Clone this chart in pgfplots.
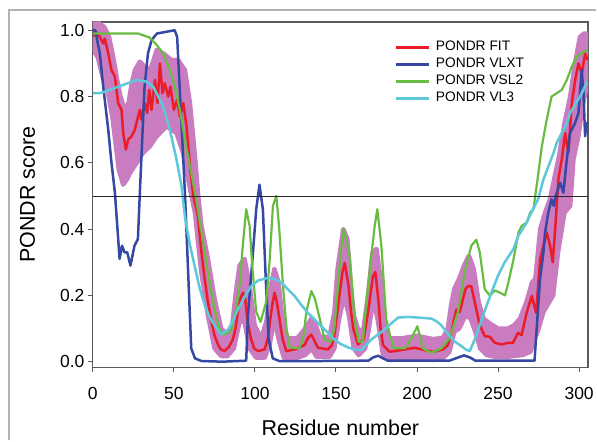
\documentclass[border=0pt]{standalone}
\usepackage{fontspec}
\setmainfont{Liberation Sans}
\usepackage{pgfplots}
\pgfplotsset{compat=1.18}
\usepgfplotslibrary{fillbetween}
\definecolor{cfit}{RGB}{236,28,40}
\definecolor{cvlxt}{RGB}{52,72,164}
\definecolor{cvsl}{RGB}{104,188,66}
\definecolor{cvl}{RGB}{92,200,218}
\definecolor{cband}{RGB}{201,124,192}
\definecolor{cframe}{RGB}{90,90,90}
\begin{document}
\begin{tikzpicture}[x=1bp,y=1bp]
\path (0,0) rectangle (597,441);
\draw[line width=2bp, black!30] (9,0) -- (9,430.5) -- (597,430.5);
\begin{axis}[
  at={(93bp,73bp)}, anchor=south west,
  scale only axis, width=496bp, height=346bp,
  xmin=0, xmax=305.5, ymin=-0.0172, ymax=1.025,
  axis line style={cframe, line width=1.2bp},
  tick style={cframe, line width=1bp},
  tick align=outside, major tick length=5bp,
  xtick pos=bottom, ytick pos=left,
  xtick={0,50,...,300},
  ytick={0,0.2,0.4,0.6,0.8,1.0},
  yticklabel style={/pgf/number format/.cd, fixed, fixed zerofill, precision=1},
  /pgf/number format/assume math mode=true,
  ticklabel style={font=\fontsize{17.5bp}{20bp}\selectfont},
  xticklabel style={yshift=-11bp},
  xlabel={Residue number}, ylabel={PONDR score},
  every axis x label/.style={at={(axis description cs:0.5,-0.1986)}, anchor=base, font=\fontsize{21.5bp}{24bp}\selectfont},
  every axis y label/.style={at={(axis description cs:-0.117,0.5)}, anchor=base, rotate=90, font=\fontsize{21.5bp}{24bp}\selectfont},
  legend style={draw=none, fill=none, at={(axis description cs:0.609,0.952)}, anchor=north west,
    font=\fontsize{13.8bp}{16bp}\selectfont, inner sep=0pt, row sep=0bp,
    nodes={inner sep=2bp, text height=10bp, text depth=3bp}},
  legend cell align=left,
  legend image code/.code={\path[draw=none, fill=none] (0bp,0bp) -- (38bp,0bp);\draw[#1, line width=2.8bp] (0bp,0bp) -- (33bp,0bp);},
]
% uncertainty band of PONDR FIT
\addplot[name path=up, draw=cband, line width=4.5bp, line join=round, line cap=round, forget plot] coordinates {
(0,1.02) (4,1.02) (7,1.01) (10,0.98) (12.5,0.92) (15,0.85) (17,0.80) (19.8,0.76) (22,0.78) (24,0.84)
(26,0.88) (29,0.905) (32,0.89) (35.2,0.88) (37.5,0.91) (39.3,0.94) (43.4,0.93) (46,0.92) (48.5,0.91)
(52.6,0.91) (56.8,0.88) (59.9,0.78) (63,0.62) (65,0.50) (67,0.41) (71,0.31) (75.1,0.19) (79.2,0.10)
(83.3,0.08) (86,0.11) (88,0.20) (90.5,0.29) (93.6,0.31) (96.7,0.23) (99.8,0.11) (103.9,0.07) (107,0.12)
(109.5,0.22) (112,0.28) (114.5,0.24) (117,0.13) (120,0.07) (126,0.07) (131,0.10) (134.8,0.13) (137.5,0.11)
(140,0.075) (146,0.075) (149,0.15) (151,0.28) (154.5,0.40) (157,0.37) (159,0.24) (161,0.14) (164,0.09)
(167,0.10) (170,0.21) (172.5,0.33) (175,0.34) (177.5,0.25) (179.5,0.12) (182,0.07) (190,0.07) (200,0.078)
(210,0.068) (216,0.072) (219,0.10) (221,0.17) (223,0.22) (226,0.25) (229,0.29) (232,0.32) (235,0.28)
(238,0.18) (241,0.13) (245,0.115) (250,0.10) (256,0.10) (260,0.11) (263.5,0.13) (267.5,0.18) (271,0.24)
(273,0.25) (276,0.40) (279,0.45) (282,0.49) (285,0.56) (288,0.63) (291,0.72) (294.5,0.80) (297.5,0.90)
(300.5,0.98) (303,0.99) (305.5,0.99)};
\addplot[name path=lo, draw=cband, line width=4.5bp, line join=round, line cap=round, forget plot] coordinates {
(0,0.94) (3,0.92) (6,0.86) (9,0.82) (12,0.74) (14,0.66) (16,0.58) (18.7,0.534) (21,0.55) (23,0.57)
(27,0.60) (31,0.63) (35.2,0.65) (39.3,0.68) (45.5,0.71) (51.6,0.69) (55.7,0.63) (58,0.57) (60,0.52)
(63,0.45) (66.9,0.27) (71,0.14) (75.1,0.04) (79.2,0.017) (83,0.017) (87,0.04) (90.5,0.12) (93.6,0.12)
(96.7,0.04) (100.8,0.012) (106,0.012) (109,0.05) (112,0.13) (115,0.06) (118,0.01) (125,0.01) (131,0.02)
(135,0.04) (138,0.015) (146,0.015) (149,0.04) (152,0.13) (155,0.20) (158,0.14) (161,0.04) (164,0.02)
(168,0.04) (170,0.09) (173,0.19) (176,0.12) (179,0.02) (184,0.005) (200,0.01) (210,0.005) (216,0.01)
(220,0.03) (223,0.09) (226,0.10) (230,0.14) (233,0.13) (236,0.09) (239,0.04) (243,0.02) (248,0.015)
(256,0.015) (265,0.02) (270,0.03) (272,0.06) (275,0.10) (278,0.15) (284,0.20) (287,0.33) (291,0.45)
(294.5,0.47) (296.5,0.61) (299.5,0.68) (302.5,0.78) (305.5,0.85)};
\addplot[cband, forget plot] fill between[of=up and lo];
% PONDR FIT
\addplot[cfit, line width=2.5bp, line join=round] coordinates {
(0,0.98) (1.2,1.0) (4.3,0.98) (6.4,0.96) (7.4,0.975) (9.5,0.93) (11.5,0.88) (13.6,0.86) (15.6,0.78)
(17.7,0.76) (18.7,0.69) (20.4,0.64) (21.8,0.67) (23.9,0.68) (25.9,0.70) (27.4,0.73) (29,0.76) (30,0.73)
(32,0.78) (33.5,0.75) (34.8,0.82) (36.2,0.76) (38.3,0.85) (39.9,0.78) (41.4,0.90) (43,0.81) (44.4,0.84)
(46.5,0.80) (47.9,0.83) (50,0.76) (52,0.79) (53.7,0.74) (55.8,0.78) (57.8,0.71) (59.9,0.59) (62,0.50)
(64.8,0.44) (67,0.33) (69,0.25) (71,0.18) (73,0.127) (75,0.08) (77.2,0.052) (79,0.037) (81.3,0.032)
(84,0.045) (86.4,0.067) (88,0.10) (89.5,0.15) (91,0.19) (92.6,0.208) (94,0.19) (95.5,0.12) (97.7,0.067)
(99.5,0.04) (101.9,0.032) (106,0.037) (108,0.07) (109.5,0.13) (111,0.18) (112.1,0.208) (113.5,0.18)
(115.2,0.127) (117,0.07) (119.3,0.032) (124.5,0.037) (130.6,0.05) (132.5,0.07) (134.8,0.082) (137,0.06)
(138.9,0.042) (145,0.037) (147.5,0.05) (149.2,0.087) (150.8,0.15) (152.3,0.208) (154,0.27) (155.4,0.298)
(157.7,0.23) (159.3,0.15) (160.8,0.097) (163.6,0.052) (167,0.067) (169.8,0.15) (172.8,0.258) (174.3,0.27)
(176.3,0.18) (177.5,0.10) (179,0.05) (183.1,0.03) (190.3,0.035) (198.6,0.042) (204.7,0.035) (209.9,0.03)
(216,0.037) (219,0.05) (221.2,0.087) (222.5,0.12) (224.3,0.157) (226.3,0.15) (228.4,0.19) (230,0.22)
(231.5,0.228) (233.5,0.228) (235.6,0.18) (238.7,0.11) (241.8,0.077) (244.9,0.075) (248,0.057) (252,0.052)
(256.2,0.057) (259.2,0.057) (262.3,0.087) (264.5,0.08) (267.6,0.147) (270.8,0.198) (273.5,0.147)
(275.9,0.308) (278,0.35) (280,0.39) (282.1,0.35) (283.7,0.30) (285.1,0.39) (287.2,0.55) (289.3,0.61)
(291.4,0.69) (293.4,0.63) (295.5,0.78) (297.6,0.85) (299.6,0.90) (301.7,0.87) (303.7,0.93) (305.2,0.91)};
\addlegendentry{PONDR FIT}
% PONDR VLXT
\addplot[cvlxt, line width=2.5bp, line join=round] coordinates {
(0,1.00) (1.5,1.00) (4.3,0.93) (6.4,0.83) (9.5,0.70) (11.5,0.60) (13.6,0.51) (15.5,0.38) (16.5,0.31)
(18,0.35) (19.5,0.33) (21.2,0.33) (23.2,0.29) (25.7,0.35) (27.8,0.37) (29,0.51) (31.9,0.83) (34,0.93)
(36.2,0.97) (39.5,0.99) (45,0.995) (50.5,1.00) (52,0.98) (56.8,0.51) (60.7,0.04) (63,0.01) (67,0.002)
(80,0.0) (94.6,0.003) (95.7,0.14) (98.8,0.33) (100.8,0.46) (102.8,0.534) (104.9,0.46) (106.5,0.27)
(108.4,0.07) (111,0.01) (115,0.002) (125,0.002) (140,0.002) (170,0.003) (173,0.013) (176,0.018)
(179,0.01) (182,0.003) (220,0.003) (225,0.012) (229,0.019) (233,0.012) (236,0.003) (272.5,0.003)
(275.9,0.25) (278,0.33) (279,0.39) (281,0.45) (283,0.49) (284.4,0.47) (285.6,0.50) (288.3,0.54)
(290.3,0.51) (292.4,0.61) (294.4,0.69) (297.5,0.72) (299.6,0.75) (301.6,0.88) (302.7,0.81) (303.7,0.68)
(304.7,0.72) (305.5,0.71)};
\addlegendentry{PONDR VLXT}
% PONDR VSL2
\addplot[cvsl, line width=2.2bp, line join=round] coordinates {
(0,0.99) (5,0.99) (15,0.99) (28,0.99) (35,0.978) (39.3,0.956) (43.4,0.93) (47.5,0.88) (50.6,0.83)
(53.7,0.76) (56.8,0.67) (59.9,0.59) (63,0.51) (66,0.42) (69,0.33) (72,0.24) (75,0.16) (78,0.10)
(80.2,0.082) (83,0.085) (85.4,0.097) (88,0.15) (90.5,0.23) (92.5,0.35) (94.6,0.46) (96.7,0.41) (98.5,0.28)
(100.8,0.15) (103.5,0.12) (106.9,0.18) (109,0.30) (111.1,0.47) (113.2,0.50) (115,0.40) (117.3,0.23)
(119.5,0.10) (121.4,0.043) (127.4,0.04) (130,0.08) (131.7,0.15) (134.8,0.213) (137,0.19) (139,0.15)
(143,0.067) (147,0.06) (149,0.10) (151.2,0.23) (153,0.33) (154.9,0.40) (158.5,0.32) (161.5,0.127)
(164,0.06) (166.5,0.06) (169.8,0.23) (173.9,0.41) (175.5,0.46) (178,0.35) (181,0.127) (185.2,0.042)
(192.5,0.04) (196.5,0.07) (200.2,0.107) (203.7,0.04) (208.8,0.027) (215,0.04) (220,0.07) (225.3,0.15)
(229.4,0.27) (233.5,0.35) (236.6,0.368) (238.7,0.33) (241.8,0.218) (244.9,0.20) (248,0.215) (251.2,0.208)
(254.3,0.20) (256.4,0.24) (259.5,0.308) (262.6,0.39) (264.6,0.41) (267.7,0.42) (269.8,0.45) (271.8,0.46)
(274.9,0.57) (277,0.65) (280,0.73) (283,0.80) (286.2,0.81) (289.3,0.82) (292.4,0.85) (295.5,0.89)
(298.6,0.92) (302.7,0.935) (305.3,0.94)};
\addlegendentry{PONDR VSL2}
% PONDR VL3
\addplot[cvl, line width=2.5bp, line join=round] coordinates {
(0,0.81) (4.3,0.81) (10.5,0.82) (18.7,0.835) (27,0.85) (33,0.845) (37.2,0.83) (39.3,0.81) (43.4,0.77)
(47.5,0.70) (51.6,0.61) (54.7,0.53) (57,0.43) (60,0.35) (63.2,0.28) (66,0.22) (69.3,0.167) (72,0.135)
(75.4,0.107) (79.2,0.082) (83.5,0.097) (86.5,0.125) (89.5,0.157) (93.5,0.195) (97.7,0.228) (102,0.245)
(108,0.253) (112,0.25) (116.2,0.24) (120,0.22) (124.5,0.198) (128.5,0.172) (132.7,0.147) (136.8,0.127)
(141,0.107) (145,0.087) (149,0.067) (153,0.053) (157.5,0.043) (161.5,0.036) (165.8,0.035) (168.5,0.05)
(171.8,0.067) (176,0.082) (180,0.097) (184,0.115) (188.3,0.133) (194.4,0.135) (201,0.133) (208.8,0.13)
(212,0.122) (215,0.11) (220.2,0.077) (223.5,0.06) (227.4,0.047) (230,0.037) (232.5,0.032) (235,0.06)
(237.7,0.097) (241.5,0.15) (245.9,0.208) (250,0.26) (254.1,0.30) (259.5,0.34) (262.3,0.378) (267.7,0.42)
(269.5,0.44) (274.7,0.49) (278,0.55) (284.2,0.63) (286.2,0.66) (292.4,0.72) (294.4,0.75) (300.6,0.80)
(305,0.845)};
\addlegendentry{PONDR VL3}
\addplot[black!85, line width=0.9bp, forget plot] coordinates {(0,0.5) (305.5,0.5)};
\end{axis}
\end{tikzpicture}
\end{document}
